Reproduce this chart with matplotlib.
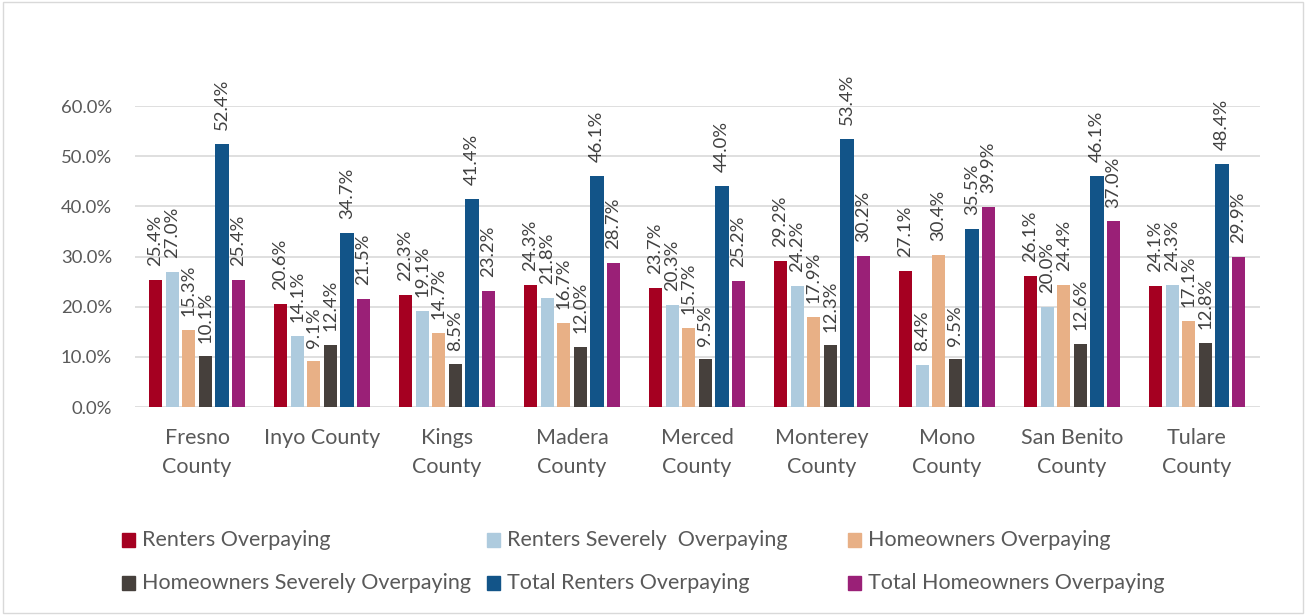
import matplotlib.pyplot as plt
import numpy as np
from matplotlib.patches import Rectangle

plt.rcParams['font.family'] = ['Lato', 'DejaVu Sans']

counties = ["Fresno\nCounty", "Inyo County", "Kings\nCounty", "Madera\nCounty",
            "Merced\nCounty", "Monterey\nCounty", "Mono\nCounty",
            "San Benito\nCounty", "Tulare\nCounty"]

series_names = ["Renters Overpaying", "Renters Severely  Overpaying",
                "Homeowners Overpaying", "Homeowners Severely Overpaying",
                "Total Renters Overpaying", "Total Homeowners Overpaying"]

renters_over = [25.4, 20.6, 22.3, 24.3, 23.7, 29.2, 27.1, 26.1, 24.1]
renters_severe = [27.0, 14.1, 19.1, 21.8, 20.3, 24.2, 8.4, 20.0, 24.3]
owners_over = [15.3, 9.1, 14.7, 16.7, 15.7, 17.9, 30.4, 24.4, 17.1]
owners_severe = [10.1, 12.4, 8.5, 12.0, 9.5, 12.3, 9.5, 12.6, 12.8]
total_renters = [52.4, 34.7, 41.4, 46.1, 44.0, 53.4, 35.5, 46.1, 48.4]
total_owners = [25.4, 21.5, 23.2, 28.7, 25.2, 30.2, 39.9, 37.0, 29.9]

colors = ["#A50021", "#AECBDE", "#E8B086", "#46403C", "#125488", "#9A2077"]

all_series = [renters_over, renters_severe, owners_over, owners_severe,
              total_renters, total_owners]

fig = plt.figure(figsize=(13.06, 6.15), dpi=100)
ax = fig.add_axes([0.103, 0.338, 0.8614, 0.4896])

x = np.arange(len(counties))
step = 0.133
width = 0.105
text_col = "#595959"

for i, (vals, col) in enumerate(zip(all_series, colors)):
    pos = x + (i - 2.5) * step
    ax.bar(pos, np.array(vals) / 100, width=width, color=col, zorder=3)
    for px, v in zip(pos, vals):
        ax.annotate(f"{v:.1f}%", (px, v / 100), xytext=(0, 10),
                    textcoords="offset points", rotation=90, ha="center",
                    va="bottom", fontsize=13.3, color="#404040",
                    annotation_clip=False)

ax.set_xlim(-0.5, len(counties) - 0.5)
ax.set_ylim(0, 0.6)
ax.set_yticks(np.arange(0, 0.61, 0.1))
ax.set_yticklabels([f"{t*100:.1f}%" for t in np.arange(0, 0.61, 0.1)],
                   fontsize=13.3, color=text_col)
ax.set_xticks(x)
ax.set_xticklabels(counties, fontsize=15.5, color=text_col, va="top",
                   linespacing=1.55)
ax.tick_params(axis="y", length=0, pad=16)
ax.tick_params(axis="x", length=0, pad=15)
ax.grid(axis="y", color="#D9D9D9", linewidth=1.2, zorder=0)
for s in ax.spines.values():
    s.set_visible(False)

# legend laid out row by row like the original
legend_x = [0.0934, 0.373, 0.649]
legend_y = [1 - 540 / 615, 1 - 583 / 615]
for i, (name, col) in enumerate(zip(series_names, colors)):
    lx = legend_x[i % 3]
    ly = legend_y[i // 3]
    fig.add_artist(Rectangle((lx, ly - 0.011), 0.01, 0.022, color=col,
                             transform=fig.transFigure))
    fig.text(lx + 0.0155, ly, name, fontsize=15.5, color=text_col,
             va="center", ha="left")

fig.add_artist(Rectangle((0.002, 0.003), 0.996, 0.994, fill=False,
                         edgecolor="#D9D9D9", linewidth=1,
                         transform=fig.transFigure))

fig.savefig("out.png", dpi=100)
